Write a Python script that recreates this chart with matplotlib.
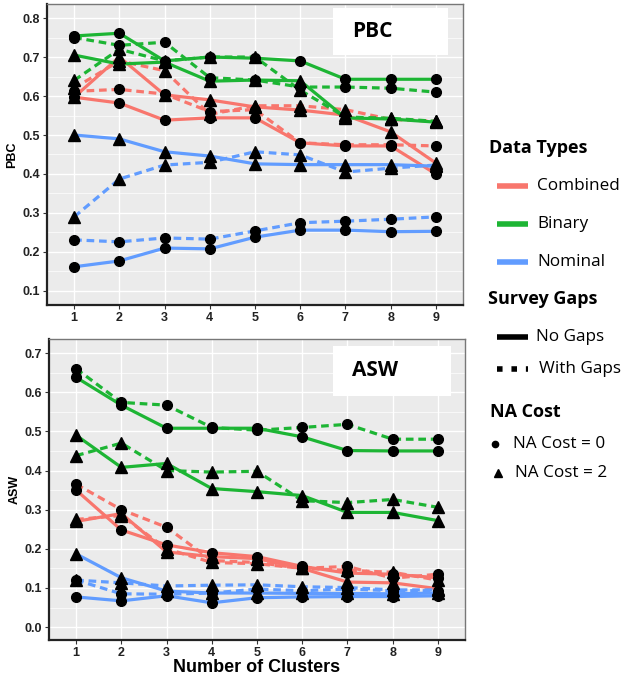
import matplotlib
matplotlib.use("Agg")
import matplotlib.pyplot as plt
from matplotlib.lines import Line2D
from matplotlib.ticker import MultipleLocator

clusters = [1, 2, 3, 4, 5, 6, 7, 8, 9]

# ---- PBC panel ----
pbc_combined_nogaps_na0 = [0.597, 0.582, 0.538, 0.544, 0.544, 0.480, 0.472, 0.472, 0.400]
pbc_combined_nogaps_na2 = [0.597, 0.700, 0.603, 0.590, 0.572, 0.564, 0.551, 0.508, 0.428]
pbc_combined_gaps_na0 = [0.612, 0.617, 0.605, 0.560, 0.565, 0.480, 0.475, 0.475, 0.472]
pbc_combined_gaps_na2 = [0.620, 0.690, 0.665, 0.553, 0.575, 0.575, 0.565, 0.540, 0.535]
pbc_binary_nogaps_na0 = [0.754, 0.761, 0.690, 0.700, 0.697, 0.690, 0.643, 0.643, 0.643]
pbc_binary_nogaps_na2 = [0.705, 0.682, 0.687, 0.638, 0.641, 0.639, 0.544, 0.541, 0.533]
pbc_binary_gaps_na0 = [0.750, 0.730, 0.738, 0.647, 0.641, 0.623, 0.623, 0.620, 0.610]
pbc_binary_gaps_na2 = [0.640, 0.720, 0.690, 0.700, 0.700, 0.615, 0.546, 0.543, 0.535]
pbc_nominal_nogaps_na0 = [0.162, 0.177, 0.210, 0.208, 0.238, 0.256, 0.256, 0.252, 0.253]
pbc_nominal_nogaps_na2 = [0.500, 0.490, 0.457, 0.446, 0.426, 0.424, 0.424, 0.424, 0.420]
pbc_nominal_gaps_na0 = [0.231, 0.226, 0.236, 0.233, 0.254, 0.275, 0.279, 0.284, 0.290]
pbc_nominal_gaps_na2 = [0.290, 0.387, 0.423, 0.430, 0.457, 0.449, 0.405, 0.415, 0.423]

# ---- ASW panel ----
asw_combined_nogaps_na0 = [0.350, 0.248, 0.210, 0.190, 0.180, 0.155, 0.138, 0.135, 0.126]
asw_combined_nogaps_na2 = [0.270, 0.290, 0.192, 0.180, 0.175, 0.150, 0.115, 0.113, 0.098]
asw_combined_gaps_na0 = [0.365, 0.300, 0.255, 0.170, 0.165, 0.150, 0.155, 0.125, 0.135]
asw_combined_gaps_na2 = [0.275, 0.285, 0.200, 0.165, 0.162, 0.150, 0.145, 0.140, 0.120]
asw_binary_nogaps_na0 = [0.638, 0.567, 0.508, 0.508, 0.508, 0.486, 0.451, 0.450, 0.450]
asw_binary_nogaps_na2 = [0.490, 0.408, 0.418, 0.354, 0.346, 0.336, 0.293, 0.293, 0.272]
asw_binary_gaps_na0 = [0.660, 0.574, 0.567, 0.510, 0.503, 0.510, 0.518, 0.480, 0.480]
asw_binary_gaps_na2 = [0.438, 0.470, 0.400, 0.396, 0.398, 0.323, 0.318, 0.326, 0.306]
asw_nominal_nogaps_na0 = [0.077, 0.067, 0.080, 0.062, 0.075, 0.077, 0.078, 0.078, 0.080]
asw_nominal_nogaps_na2 = [0.187, 0.126, 0.092, 0.087, 0.087, 0.086, 0.086, 0.085, 0.087]
asw_nominal_gaps_na0 = [0.120, 0.085, 0.084, 0.087, 0.097, 0.093, 0.097, 0.093, 0.093]
asw_nominal_gaps_na2 = [0.120, 0.113, 0.105, 0.107, 0.108, 0.103, 0.101, 0.095, 0.095]

data_types = ["Combined", "Binary", "Nominal"]
gap_labels = ["No Gaps", "With Gaps"]
na_labels = ["NA Cost = 0", "NA Cost = 2"]

colors = {"Combined": "#F8766D", "Binary": "#1DB534", "Nominal": "#619CFF"}

pbc_series = [
    ("Combined", 0, 0, pbc_combined_nogaps_na0), ("Combined", 0, 2, pbc_combined_nogaps_na2),
    ("Combined", 1, 0, pbc_combined_gaps_na0), ("Combined", 1, 2, pbc_combined_gaps_na2),
    ("Binary", 0, 0, pbc_binary_nogaps_na0), ("Binary", 0, 2, pbc_binary_nogaps_na2),
    ("Binary", 1, 0, pbc_binary_gaps_na0), ("Binary", 1, 2, pbc_binary_gaps_na2),
    ("Nominal", 0, 0, pbc_nominal_nogaps_na0), ("Nominal", 0, 2, pbc_nominal_nogaps_na2),
    ("Nominal", 1, 0, pbc_nominal_gaps_na0), ("Nominal", 1, 2, pbc_nominal_gaps_na2),
]
asw_series = [
    ("Combined", 0, 0, asw_combined_nogaps_na0), ("Combined", 0, 2, asw_combined_nogaps_na2),
    ("Combined", 1, 0, asw_combined_gaps_na0), ("Combined", 1, 2, asw_combined_gaps_na2),
    ("Binary", 0, 0, asw_binary_nogaps_na0), ("Binary", 0, 2, asw_binary_nogaps_na2),
    ("Binary", 1, 0, asw_binary_gaps_na0), ("Binary", 1, 2, asw_binary_gaps_na2),
    ("Nominal", 0, 0, asw_nominal_nogaps_na0), ("Nominal", 0, 2, asw_nominal_nogaps_na2),
    ("Nominal", 1, 0, asw_nominal_gaps_na0), ("Nominal", 1, 2, asw_nominal_gaps_na2),
]

W, H = 627, 681
fig = plt.figure(figsize=(W / 100, H / 100), dpi=100)
fig.patch.set_facecolor("white")

def fx(px):
    return px / W

def fy(py):
    return 1 - py / H

TICKFONT = dict(family="Liberation Sans", weight="bold", size=9)
LW = 2.3

def draw_panel(rect, series, ylim, yticks, ylabel, title, title_box):
    ax = fig.add_axes(rect)
    ax.set_facecolor("#EBEBEB")
    ax.set_xlim(0.4, 9.6)
    ax.set_ylim(*ylim)
    ax.set_yticks(yticks)
    ax.set_yticklabels([f"{t:.1f}" for t in yticks], **TICKFONT)
    ax.yaxis.set_minor_locator(MultipleLocator(0.05))
    ax.set_xticks(clusters)
    ax.set_xticklabels([str(c) for c in clusters], **TICKFONT)
    ax.grid(True, which="major", color="white", lw=1.0)
    ax.grid(True, which="minor", axis="y", color="white", lw=0.5)
    ax.set_axisbelow(True)
    ax.tick_params(axis="both", which="major", length=3, width=0.8, color="#333333", pad=2, labelcolor="#222222")
    ax.tick_params(axis="both", which="minor", length=0)
    for s in ["top", "right"]:
        ax.spines[s].set_color("#777777")
        ax.spines[s].set_linewidth(1.0)
    for s in ["left", "bottom"]:
        ax.spines[s].set_color("#222222")
        ax.spines[s].set_linewidth(1.6)
    ax.set_ylabel(ylabel, family="Liberation Sans", weight="bold", size=9, labelpad=3)
    for dtype, gap, na, vals in series:
        ls = "-" if gap == 0 else (0, (2.4, 1.5))
        ax.plot(clusters, vals, color=colors[dtype], lw=LW, ls=ls, zorder=2,
                solid_capstyle="butt", dash_capstyle="butt")
    for dtype, gap, na, vals in series:
        mk = "o" if na == 0 else "^"
        ms = 7 if na == 0 else 8
        ax.plot(clusters, vals, ls="none", marker=mk, ms=ms, color="black", zorder=3)
    # label box
    bx0, by0, bx1, by1 = title_box
    fig.patches.append(plt.Rectangle((fx(bx0), fy(by1)), fx(bx1) - fx(bx0), fy(by0) - fy(by1),
                                     transform=fig.transFigure, facecolor="white", edgecolor="none", zorder=5))
    fig.text(fx(bx0 + 19), fy((by0 + by1) / 2), title, family="Open Sans", weight="bold", size=15,
             ha="left", va="center", zorder=6)
    return ax

ax1 = draw_panel([fx(47), fy(305), fx(463) - fx(47), fy(4) - fy(305)], pbc_series,
                 (0.064, 0.836), [0.1, 0.2, 0.3, 0.4, 0.5, 0.6, 0.7, 0.8], "PBC", "PBC",
                 (333, 8, 448, 55))
ax2 = draw_panel([fx(49), fy(640), fx(465) - fx(49), fy(339) - fy(640)], asw_series,
                 (-0.033, 0.736), [0.0, 0.1, 0.2, 0.3, 0.4, 0.5, 0.6, 0.7], "ASW", "ASW",
                 (333, 346, 451, 396))

fig.text(fx(257), fy(668), "Number of Clusters", family="Liberation Sans", weight="bold",
         size=13, ha="center", va="center")

# ---- legend ----
LEGFONT = dict(family="Open Sans", size=12.3)
HEADFONT = dict(family="Open Sans", size=13, weight="bold")
fig.text(fx(489), fy(148), "Data Types", ha="left", va="center", **HEADFONT)
for i, dt in enumerate(data_types):
    y = [186, 224, 262][i]
    fig.lines.append(Line2D([fx(497), fx(528)], [fy(y), fy(y)], transform=fig.transFigure,
                            color=colors[dt], lw=4, solid_capstyle="butt"))
    fig.text(fx(537), fy(y), dt, ha="left", va="center", **LEGFONT)
fig.text(fx(488), fy(299), "Survey Gaps", ha="left", va="center", **HEADFONT)
fig.lines.append(Line2D([fx(497), fx(528)], [fy(337), fy(337)], transform=fig.transFigure,
                        color="black", lw=4, solid_capstyle="butt"))
fig.text(fx(536), fy(337), gap_labels[0], ha="left", va="center", **LEGFONT)
fig.lines.append(Line2D([fx(497), fx(528)], [fy(369), fy(369)], transform=fig.transFigure,
                        color="black", lw=4, ls=(0, (1.0, 1.6)), dash_capstyle="butt"))
fig.text(fx(539), fy(369), gap_labels[1], ha="left", va="center", **LEGFONT)
fig.text(fx(490), fy(412), "NA Cost", ha="left", va="center", **HEADFONT)
fig.lines.append(Line2D([fx(495)], [fy(444)], transform=fig.transFigure, ls="none",
                        marker="o", ms=4.5, color="black"))
fig.text(fx(513), fy(444), na_labels[0], ha="left", va="center", **LEGFONT)
fig.lines.append(Line2D([fx(498)], [fy(473)], transform=fig.transFigure, ls="none",
                        marker="^", ms=5.5, color="black"))
fig.text(fx(515), fy(473), na_labels[1], ha="left", va="center", **LEGFONT)

fig.savefig("out.png", dpi=100)
